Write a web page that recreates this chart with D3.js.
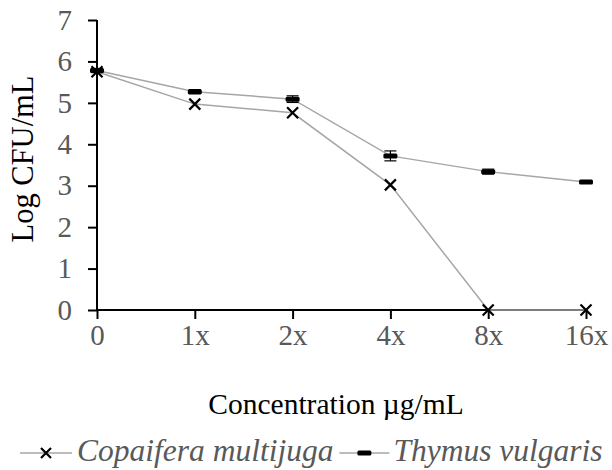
<!DOCTYPE html>
<html><head><meta charset="utf-8">
<script src="https://cdn.jsdelivr.net/npm/d3@7"></script>
<style>body{margin:0;background:#fff}svg{display:block}</style>
</head><body>
<svg id="c" width="612" height="470"></svg>
<script>
const categories = ["0","1x","2x","4x","8x","16x"];
const copaifera = [5.75, 4.97, 4.76, 3.02, 0, 0];
const thymus = [5.78, 5.27, 5.09, 3.72, 3.34, 3.09];
const thymusErr = [0.05, 0.05, 0.08, 0.12, 0.06, 0.03];
const yTicks = [0,1,2,3,4,5,6,7];
const seriesNames = ["Copaifera multijuga", "Thymus vulgaris"];

const svg = d3.select("#c");
const x = d3.scalePoint().domain(categories).range([97, 586]);
const y = d3.scaleLinear().domain([0,7]).range([310, 20]);
const font = "'Liberation Serif','Times New Roman',serif";

// axes
const yAxis = svg.append("g").attr("transform","translate(97,0)")
  .call(d3.axisLeft(y).tickValues(yTicks).tickFormat(d3.format("d")).tickSize(9).tickPadding(16).tickSizeOuter(0));
const xAxis = svg.append("g").attr("transform","translate(0,310)")
  .call(d3.axisBottom(x).tickSize(9).tickPadding(5).tickSizeOuter(0));
[yAxis, xAxis].forEach(a=>{
  a.select(".domain").attr("stroke","#000").attr("stroke-width",2);
  a.selectAll(".tick line").attr("stroke","#000").attr("stroke-width",2);
  a.selectAll(".tick text").attr("fill","#595959").style("font-family",font).style("font-size","29px");
});
xAxis.select(".domain").attr("d","M97,0H586");
yAxis.select(".domain").attr("d","M0,310V20");

// lines
const line = d3.line().x((d,i)=>x(categories[i])).y(d=>y(d));
svg.append("path").datum(copaifera).attr("d",line).attr("fill","none").attr("stroke","#a6a6a6").attr("stroke-width",1.5);
svg.append("path").datum(thymus).attr("d",line).attr("fill","none").attr("stroke","#a6a6a6").attr("stroke-width",1.5);

// error bars thymus
thymus.forEach((v,i)=>{
  const cx = x(categories[i]);
  const e = thymusErr[i];
  const g = svg.append("g").attr("stroke","#000").attr("stroke-width",1.2);
  g.append("line").attr("x1",cx).attr("x2",cx).attr("y1",y(v+e)).attr("y2",y(v-e));
  g.append("line").attr("x1",cx-6).attr("x2",cx+6).attr("y1",y(v+e)).attr("y2",y(v+e));
  g.append("line").attr("x1",cx-6).attr("x2",cx+6).attr("y1",y(v-e)).attr("y2",y(v-e));
});

function cross(g, cx, cy, s){
  g.append("path").attr("d",`M${cx-s},${cy-s}L${cx+s},${cy+s}M${cx-s},${cy+s}L${cx+s},${cy-s}`)
   .attr("stroke","#000").attr("stroke-width",2.2).attr("fill","none");
}
function dash(g, cx, cy){
  g.append("rect").attr("x",cx-7).attr("y",cy-2.5).attr("width",14).attr("height",5).attr("rx",1.5).attr("fill","#000");
}
thymus.forEach((v,i)=>dash(svg, x(categories[i]), y(v)));
copaifera.forEach((v,i)=>cross(svg, x(categories[i]), y(v), 5.5));

// titles
svg.append("text").attr("x",336).attr("y",414).attr("text-anchor","middle")
  .style("font-family",font).style("font-size","29.5px").attr("fill","#000").text("Concentration µg/mL");
svg.append("text").attr("transform","translate(33,159) rotate(-90)").attr("text-anchor","middle")
  .style("font-family",font).style("font-size","30.5px").attr("fill","#000").text("Log CFU/mL");

// legend
const lg = svg.append("g");
const lfs = "31.5px";
lg.append("line").attr("x1",20).attr("x2",72).attr("y1",453).attr("y2",453).attr("stroke","#a6a6a6").attr("stroke-width",1.5);
cross(lg, 46, 453, 5);
const tA = lg.append("text").attr("x",77).attr("y",461)
  .style("font-family",font).style("font-style","italic").style("font-size",lfs).attr("fill","#595959").text(seriesNames[0]);
const t1 = tA.node().getComputedTextLength();
const lx = 77 + t1 + 6;
lg.append("line").attr("x1",lx).attr("x2",lx+50).attr("y1",453).attr("y2",453).attr("stroke","#a6a6a6").attr("stroke-width",1.5);
dash(lg, lx+25, 453);
lg.append("text").attr("x",lx+54).attr("y",461)
  .style("font-family",font).style("font-style","italic").style("font-size",lfs).attr("fill","#595959").text(seriesNames[1]);
</script>
</body></html>
